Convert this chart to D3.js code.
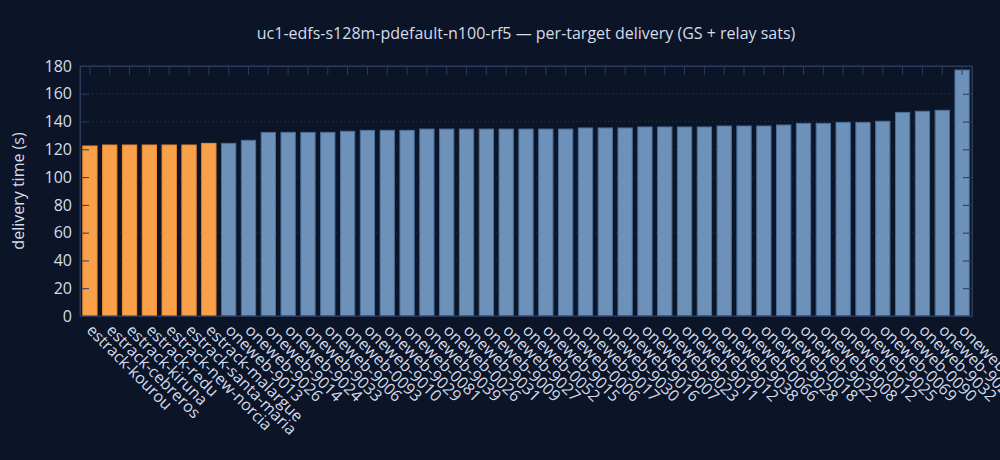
<!DOCTYPE html>
<html>
<head>
<meta charset="utf-8">
<script src="https://cdn.jsdelivr.net/npm/d3@7"></script>
<style>
  body { margin: 0; background: #0b1527; }
  text { font-family: "Open Sans", "Noto Sans", sans-serif; }
</style>
</head>
<body>
<script>
// targets, sorted by delivery time
var targets = [
  "estrack-kourou", "estrack-cebreros", "estrack-kiruna", "estrack-redu",
  "estrack-new-norcia", "estrack-santa-maria", "estrack-malargue",
  "oneweb-9013", "oneweb-9026", "oneweb-9014", "oneweb-9024", "oneweb-9033",
  "oneweb-9006", "oneweb-0093", "oneweb-9010", "oneweb-9029", "oneweb-0081",
  "oneweb-9039", "oneweb-0026", "oneweb-9031", "oneweb-9009", "oneweb-9027",
  "oneweb-0052", "oneweb-9015", "oneweb-0006", "oneweb-9017", "oneweb-9030",
  "oneweb-9016", "oneweb-9007", "oneweb-9023", "oneweb-9011", "oneweb-9012",
  "oneweb-9038", "oneweb-0066", "oneweb-9028", "oneweb-0018", "oneweb-9022",
  "oneweb-9008", "oneweb-0012", "oneweb-9025", "oneweb-0069", "oneweb-0090",
  "oneweb-9032", "oneweb-9020", "oneweb-9005"
];
var delivery = [
  122.4, 123.1, 123.1, 123.1, 123.1, 123.1, 124.3,
  124.3, 126.5, 132.2, 132.2, 132.2, 132.2, 133.0, 133.7, 133.7, 133.7,
  134.6, 134.6, 134.6, 134.6, 134.6, 134.6, 134.6, 134.6, 135.4, 135.4,
  135.4, 136.1, 136.1, 136.1, 136.1, 136.8, 136.8, 136.8, 137.5, 138.7,
  138.7, 139.4, 139.4, 140.2, 146.6, 147.4, 148.1, 177.1
];
var kinds = targets.map(function(t) { return t.indexOf("estrack") === 0 ? "gs" : "sat"; });
var yTicks = [0, 20, 40, 60, 80, 100, 120, 140, 160, 180];

var W = 1000, H = 460;
var m = {top: 66, right: 28, bottom: 144, left: 80};
var iw = W - m.left - m.right, ih = H - m.top - m.bottom;

var svg = d3.select("body").append("svg")
  .attr("width", W).attr("height", H)
  .style("background", "#0b1527");

var x = d3.scaleBand().domain(targets).range([0, iw]).paddingInner(0.28).paddingOuter(0.14);
var y = d3.scaleLinear().domain([0, 180]).range([ih, 0]);

var g = svg.append("g").attr("transform", "translate(" + m.left + "," + m.top + ")");

// dotted grid
g.selectAll(".grid").data(yTicks.slice(1, -1)).enter().append("line")
  .attr("x1", 0).attr("x2", iw)
  .attr("y1", function(d) { return y(d); }).attr("y2", function(d) { return y(d); })
  .attr("stroke", "#26344f").attr("stroke-dasharray", "1,3");

// bars
g.selectAll(".bar").data(targets).enter().append("rect")
  .attr("x", function(d) { return x(d); })
  .attr("width", x.bandwidth())
  .attr("y", function(d, i) { return y(delivery[i]); })
  .attr("height", function(d, i) { return ih - y(delivery[i]); })
  .attr("fill", function(d, i) { return kinds[i] === "gs" ? "#f9a04b" : "#6d91b8"; })
  .attr("stroke", function(d, i) { return kinds[i] === "gs" ? "#f38c2b" : "#4b709d"; })
  .attr("stroke-width", 1);

// frame with inside ticks (mirrored)
var frameCol = "#2b3a58";
g.append("rect").attr("width", iw).attr("height", ih)
  .attr("fill", "none").attr("stroke", frameCol);

var yl = g.append("g").call(d3.axisLeft(y).tickValues(yTicks).tickSizeInner(-9).tickSizeOuter(0).tickPadding(8));
var yr = g.append("g").attr("transform", "translate(" + iw + ",0)")
  .call(d3.axisRight(y).tickValues(yTicks).tickSizeInner(-9).tickSizeOuter(0));
yr.selectAll("text").remove();
var xt = g.append("g").call(d3.axisTop(x).tickSizeInner(-9).tickSizeOuter(0));
xt.selectAll("text").remove();
var xb = g.append("g").attr("transform", "translate(0," + ih + ")")
  .call(d3.axisBottom(x).tickSize(0));

[yl, yr, xt, xb].forEach(function(a) {
  a.select(".domain").attr("stroke", frameCol);
  a.selectAll("line").attr("stroke", frameCol);
});
yl.selectAll("text").attr("fill", "#d5dcea").attr("font-size", 16);

xb.selectAll("text")
  .attr("fill", "#d5dcea").attr("font-size", 16)
  .attr("text-anchor", "start")
  .attr("dy", "0.72em").attr("y", 0)
  .attr("transform", "translate(4,7) rotate(45)");

// titles
svg.append("text")
  .attr("x", m.left + iw / 2).attr("y", 39)
  .attr("text-anchor", "middle").attr("fill", "#d5dcea").attr("font-size", 16)
  .text("uc1-edfs-s128m-pdefault-n100-rf5 \u2014 per-target delivery (GS + relay sats)");

svg.append("text")
  .attr("transform", "translate(24," + (m.top + ih / 2) + ") rotate(-90)")
  .attr("text-anchor", "middle").attr("fill", "#d5dcea").attr("font-size", 16)
  .text("delivery time (s)");
</script>
</body>
</html>
